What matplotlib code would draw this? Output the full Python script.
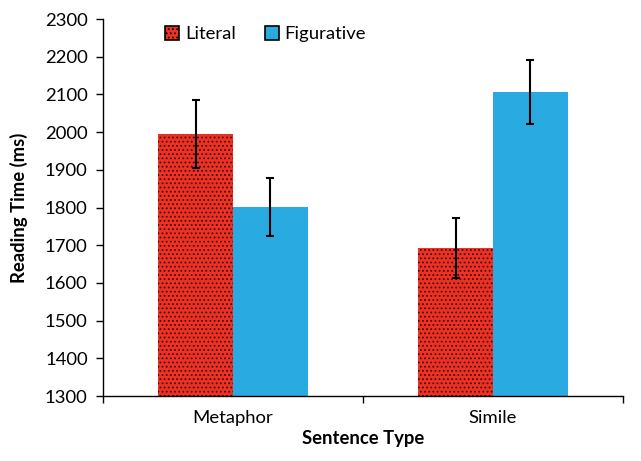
import matplotlib
matplotlib.use("Agg")
import matplotlib.pyplot as plt
import numpy as np

plt.rcParams['font.family'] = ['Lato', 'DejaVu Sans']
plt.rcParams['hatch.linewidth'] = 0.8

categories = ["Metaphor", "Simile"]
series = ["Literal", "Figurative"]
literal = [1995, 1693]
figurative = [1801, 2106]
literal_err = [91, 79]
figurative_err = [76, 85]
yticks = [1300, 1400, 1500, 1600, 1700, 1800, 1900, 2000, 2100, 2200, 2300]

red = "#EE3124"
blue = "#29ABE2"
fs = 13.3

fig = plt.figure(figsize=(6.41, 4.61), dpi=100)
ax = fig.add_axes([103/641, 65/461, 520/641, 377/461])

x = np.arange(len(categories)) + 0.5
w = 0.287
ax.bar(x - w/2, np.array(literal) - 1300, w, bottom=1300, color=red,
       edgecolor="#3a0a05", linewidth=0, hatch="....", label=series[0])
ax.bar(x + w/2, np.array(figurative) - 1300, w, bottom=1300, color=blue,
       linewidth=0, label=series[1])
ax.errorbar(x - w/2, literal, yerr=literal_err, fmt="none", ecolor="black",
            elinewidth=1.5, capsize=3, capthick=1.5)
ax.errorbar(x + w/2, figurative, yerr=figurative_err, fmt="none", ecolor="black",
            elinewidth=1.5, capsize=3, capthick=1.5)

ax.set_xlim(0, 2)
ax.set_ylim(1300, 2300)
ax.set_yticks(yticks)
ax.set_xticks([0, 1, 2])
ax.set_xticklabels([])
ax.set_xticks(x, minor=True)
ax.set_xticklabels(categories, minor=True, fontsize=fs)
ax.tick_params(axis="x", which="minor", length=0, pad=10)
ax.tick_params(axis="x", which="major", length=5, width=1)
ax.tick_params(axis="y", length=5, width=1, labelsize=fs, pad=6)

for s in ["top", "right"]:
    ax.spines[s].set_visible(False)
for s in ["left", "bottom"]:
    ax.spines[s].set_linewidth(1)

ax.set_ylabel("Reading Time (ms)", fontsize=fs, fontweight="bold", labelpad=12)
ax.set_xlabel("Sentence Type", fontsize=fs, fontweight="bold", labelpad=3)

leg = ax.legend(loc="upper left", bbox_to_anchor=(0.088, 1.025), ncol=2, frameon=False,
                fontsize=fs, handlelength=0.75, handleheight=0.75,
                handletextpad=0.3, columnspacing=1.6)
for h in leg.legend_handles:
    h.set_edgecolor("black")
    h.set_linewidth(1.2)

fig.savefig("out.png", dpi=100)
